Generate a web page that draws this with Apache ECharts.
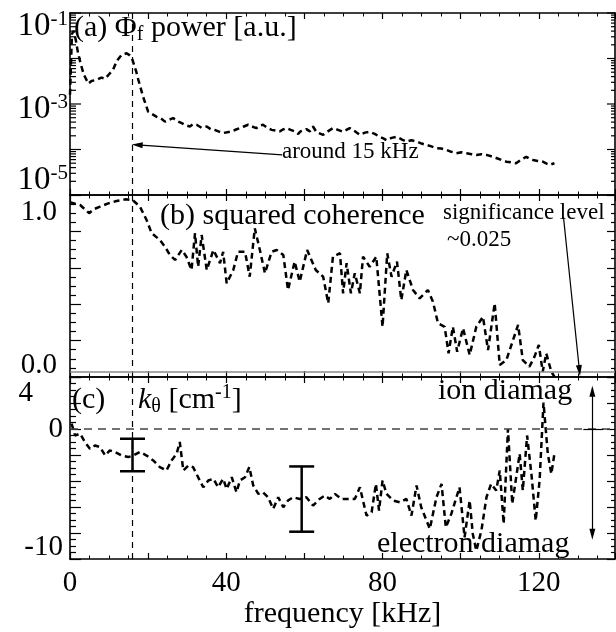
<!DOCTYPE html>
<html>
<head>
<meta charset="utf-8">
<script src="https://cdn.jsdelivr.net/npm/echarts@6/dist/echarts.min.js"></script>
<style>
  html, body { margin: 0; padding: 0; background: #fff; }
  #chart { width: 616px; height: 632px; }
</style>
</head>
<body>
<div id="chart"></div>
<script>
// ---- data ----------------------------------------------------------------
const FREQ_MAX = 139.5;          // kHz, right edge of the frequency axis
const FREQ_MARK = 16;            // dominant mode frequency, marked in all panels
const freqLabels = [0, 40, 80, 120];
const significanceLevel = 0.025;

// (a) potential fluctuation power spectrum [frequency kHz, power a.u.]
const powerSpectrum = [
  [0,1.6e-3],[0.5,3.5e-2],[1,4.0e-2],[1.5,2.5e-2],[2,1.4e-2],[2.6,8.5e-3],[3.5,4.5e-3],[4.7,2.8e-3],
  [5.5,3.2e-3],[6.8,3.4e-3],[8,3.8e-3],[9,3.6e-3],[10,4.5e-3],[11,5.6e-3],[12,8.9e-3],[13.2,1.2e-2],
  [14.5,1.3e-2],[15.3,1.17e-2],[16,9.3e-3],[17,5.0e-3],[17.5,3.4e-3],[18.7,1.45e-3],[20,6.8e-4],
  [21,6.0e-4],[22.2,5.2e-4],[23.3,4.8e-4],[24.3,4.1e-4],[25.3,4.5e-4],[26.4,4.9e-4],[27.5,4.2e-4],
  [28.6,3.8e-4],[29.6,3.4e-4],[30.7,3.2e-4],[31.5,3.6e-4],[32.4,3.5e-4],[33.7,3.0e-4],[35,3.2e-4],
  [36,2.8e-4],[37,2.7e-4],[38,2.5e-4],[39.2,2.3e-4],[40.3,2.4e-4],[41.4,2.5e-4],[42.5,2.75e-4],
  [43.5,2.95e-4],[44.5,3.2e-4],[45.6,3.5e-4],[46.6,3.2e-4],[47.7,2.95e-4],[48.5,3.3e-4],[49.4,3.5e-4],
  [50.5,3.0e-4],[51.6,2.7e-4],[52.7,2.6e-4],[53.7,2.5e-4],[54.5,2.75e-4],[55.4,2.95e-4],[56.5,2.7e-4],
  [57.5,2.5e-4],[58.4,2.2e-4],[59,2.5e-4],[60.5,2.8e-4],[61.4,2.5e-4],[62.2,3.2e-4],[63.1,2.4e-4],
  [64.8,2.1e-4],[66,2.5e-4],[67.3,2.95e-4],[68.6,2.7e-4],[69.9,2.45e-4],[71.6,2.95e-4],[73,2.5e-4],
  [74.2,2.1e-4],[75.5,2.35e-4],[76.7,2.45e-4],[78,2.2e-4],[79.3,1.9e-4],[80.2,1.75e-4],[81,1.6e-4],
  [82.3,1.8e-4],[83.6,1.9e-4],[85,1.65e-4],[86.1,1.5e-4],[87.4,1.6e-4],[88.7,1.5e-4],[90,1.35e-4],
  [91.2,1.26e-4],[92.5,1.17e-4],[93.8,1.07e-4],[95,1.05e-4],[96.3,9.8e-5],[97.6,8.9e-5],[98.9,8.3e-5],
  [100.2,8.7e-5],[101.5,8.3e-5],[102.8,7.9e-5],[104,7.6e-5],[105.3,7.9e-5],[106.6,7.6e-5],[107.8,7.1e-5],
  [109.1,6.5e-5],[110.4,5.9e-5],[111.7,5.4e-5],[113,5.2e-5],[114.2,5.0e-5],[115.5,6.0e-5],[116.8,6.9e-5],
  [117.6,6.3e-5],[118.5,5.9e-5],[119.7,5.6e-5],[121,5.4e-5],[122,4.9e-5],[122.8,4.6e-5],[124,5.0e-5]
];

// (b) squared coherence between the two probes [frequency kHz, coherence]
const coherence = [
  [0,0.96],[0.4,0.963],[2.6,0.945],[4.9,0.90],[6,0.921],[7.7,0.936],[9.8,0.954],[11.9,0.967],[14.1,0.976],
  [16,0.973],[17.9,0.936],[19.6,0.863],[20.9,0.79],[23,0.753],[24.3,0.716],[25.6,0.67],[26.9,0.643],
  [28.6,0.698],[29.8,0.661],[31.1,0.588],[32,0.79],[32.8,0.606],[33.7,0.78],[35,0.588],[36.7,0.698],
  [38.4,0.625],[39.2,0.688],[40.1,0.515],[41.8,0.588],[43,0.688],[44.8,0.688],[46,0.551],[47.3,0.817],
  [48.6,0.698],[49.9,0.57],[51.6,0.688],[52.9,0.698],[54.6,0.67],[55.8,0.478],[57.5,0.634],[58.8,0.524],
  [60.7,0.698],[62.9,0.588],[64.8,0.551],[66.1,0.405],[67.3,0.661],[69.1,0.68],[69.9,0.46],[70.8,0.625],
  [71.9,0.46],[72.9,0.57],[74.2,0.46],[75,0.661],[76.7,0.606],[78.4,0.661],[80,0.276],[81.2,0.68],
  [82.3,0.551],[83.7,0.634],[84.8,0.423],[86.1,0.588],[87.8,0.478],[89.5,0.432],[91.6,0.478],[92.9,0.414],
  [94.2,0.295],[95.9,0.276],[96.9,0.13],[98,0.276],[99.1,0.139],[100.6,0.268],[102.3,0.121],[104,0.276],
  [105.7,0.331],[107,0.148],[108.7,0.405],[110,0.066],[111.7,0.093],[113.4,0.203],[114.7,0.286],
  [115.9,0.093],[117.6,0.057],[118.9,0.112],[120,0.176],[121,0.029],[121.9,0.13],[123.2,0.029],[124,0.002]
];

// (c) poloidal wavenumber [frequency kHz, k_theta cm^-1]
const kTheta = [
  [0.4,0.41],[1.3,-0.50],[2.6,-0.36],[3.8,-1.00],[5.1,-1.52],[6.4,-1.27],[7.7,-1.39],[9,-2.04],
  [10.2,-1.65],[11.5,-1.77],[13.2,-2.04],[14.9,-2.16],[16.2,-2.04],[17.9,-1.77],[19.6,-2.04],[21.3,-2.42],
  [23,-2.93],[24.7,-3.19],[26,-2.42],[27.3,-1.90],[28.1,-1.00],[29,-3.19],[30.3,-2.81],[31.5,-2.93],
  [32.8,-3.71],[34.1,-4.48],[35.4,-3.96],[36.7,-3.83],[37.9,-4.48],[39.2,-3.83],[40.1,-4.61],[41.4,-3.71],
  [42.6,-4.87],[43.5,-3.96],[44.8,-3.71],[45.9,-2.93],[46.9,-4.34],[48.2,-4.99],[49.4,-4.87],[50.7,-5.25],
  [52,-6.14],[53.3,-5.25],[54.6,-6.02],[55.8,-5.50],[57.1,-5.25],[58.8,-5.38],[60.5,-5.25],[62.2,-5.89],
  [63.9,-5.38],[65.2,-5.12],[66.5,-5.38],[67.8,-4.99],[69.5,-5.38],[71.6,-5.38],[72.9,-5.38],[74.2,-4.48],
  [75.9,-6.66],[77.2,-6.41],[78.3,-4.22],[79.1,-6.27],[80,-3.96],[81,-4.99],[82.7,-5.50],[84.4,-5.64],
  [86.1,-5.38],[87.4,-6.66],[88.7,-4.34],[89.9,-6.02],[92.1,-7.68],[93.8,-5.25],[95.1,-4.22],[96.2,-7.57],
  [97.6,-6.53],[99.7,-4.48],[101,-8.33],[102.3,-5.50],[103.1,-8.07],[104,-9.36],[105.3,-7.82],[106.6,-5.25],
  [107.8,-4.22],[109.1,-4.73],[110,-3.19],[111,-7.29],[112.1,0.0],[113.2,-5.76],[115.1,-1.90],[115.9,-4.73],
  [117,-0.50],[118.1,-3.45],[119.2,-7.05],[120.2,-3.96],[121.2,2.03],[122.3,-1.90],[123.2,-3.45],[124,-1.90]
];

// representative uncertainty of k_theta [frequency kHz, low, high]
const kThetaErrors = [[16, -3.25, -0.75], [59.3, -7.9, -2.88]];

// ---- styling helpers ---------------------------------------------------------
const SERIF = '"Liberation Serif", "DejaVu Serif", "Times New Roman", serif';
const BLACK = '#000';
const curveStyle = { color: BLACK, width: 2.5, type: [6, 4] };
const markDash = { color: BLACK, width: 1.2, type: [6, 5] };

const PANEL_H = 182;
const grids = [
  { left: 70, top: 13, width: 545, height: PANEL_H },
  { left: 70, top: 13 + PANEL_H, width: 545, height: PANEL_H },
  { left: 70, top: 13 + 2 * PANEL_H, width: 545, height: PANEL_H }
].map(g => Object.assign({ outerBoundsMode: 'none', containLabel: false }, g));

function freqAxis(gridIndex, position, labelled) {
  return {
    type: 'value', gridIndex, position, min: 0, max: FREQ_MAX, interval: 20,
    axisLine: { show: true, onZero: false, lineStyle: { color: BLACK, width: 1.6 } },
    axisTick: { show: true, inside: true, length: 6, lineStyle: { color: BLACK, width: 1.2 } },
    minorTick: { show: true, splitNumber: 4, length: 3.5, lineStyle: { color: BLACK, width: 1 } },
    splitLine: { show: false },
    axisLabel: {
      show: labelled, margin: 10, fontFamily: SERIF, fontSize: 29, lineHeight: 29, color: BLACK,
      formatter: v => (freqLabels.indexOf(v) >= 0 ? String(v) : '')
    },
    name: labelled ? 'frequency [kHz]' : '',
    nameLocation: 'middle', nameGap: 33,
    nameTextStyle: { fontFamily: SERIF, fontSize: 30, lineHeight: 30, color: BLACK }
  };
}

const labelRich = {
  b: { fontFamily: SERIF, fontSize: 29, lineHeight: 30, color: BLACK },
  p: { fontFamily: SERIF, fontSize: 33, lineHeight: 34, color: BLACK },
  s: { fontFamily: SERIF, fontSize: 21, lineHeight: 21, color: BLACK, verticalAlign: 'top' },
  four: { fontFamily: SERIF, fontSize: 29, lineHeight: 30, color: BLACK, padding: [0, 30, 0, 0] },
  g10: { fontSize: 8, lineHeight: 10 },
  g24: { fontSize: 8, lineHeight: 24 },
  g26: { fontSize: 8, lineHeight: 26 },
  g30: { fontSize: 8, lineHeight: 30 },
  g33: { fontSize: 8, lineHeight: 33 },
  g35: { fontSize: 8, lineHeight: 35 }
};

function valueAxis(gridIndex, position, min, max, interval, labelled, formatter, margin) {
  const left = position === 'left';
  return {
    type: 'value', gridIndex, position, min, max, interval,
    axisLine: { show: true, onZero: false, lineStyle: { color: BLACK, width: 1.6 } },
    axisTick: { show: true, inside: true, length: left ? 11 : 8, lineStyle: { color: BLACK, width: 1.2 } },
    minorTick: { show: true, splitNumber: 4, length: left ? 6 : 4, lineStyle: { color: BLACK, width: 1.2 } },
    splitLine: { show: false },
    axisLabel: { show: labelled, margin: margin || 6, formatter, rich: labelRich, color: BLACK, fontFamily: SERIF, fontSize: 29 }
  };
}

function powerAxis(position, labelled) {
  return {
    type: 'log', logBase: 10, gridIndex: 0, position, min: 1e-5, max: 1e-1,
    axisLine: { show: true, onZero: false, lineStyle: { color: BLACK, width: 1.6 } },
    axisTick: { show: false }, minorTick: { show: false }, splitLine: { show: false },
    axisLabel: {
      show: labelled, margin: 2, rich: labelRich, color: BLACK, fontFamily: SERIF, fontSize: 33,
      formatter: v => {
        const e = Math.round(Math.log10(v));
        if (e === -1) return '{g26| }\n{p|10}{s|-1}';
        if (e === -3) return '{g10| }\n{p|10}{s|-3}';
        if (e === -5) return '{p|10}{s|-5}\n{g30| }';
        return '';
      }
    }
  };
}

// decade + 2..9 tick values for the logarithmic power axis
const logTicks = [];
for (let e = -5; e <= -2; e++) {
  for (let k = 1; k <= 9; k++) logTicks.push([0, k * Math.pow(10, e), k === 1 ? 1 : 0]);
}
logTicks.push([0, 1e-1, 1]);

const option = {
  animation: false,
  backgroundColor: '#fff',
  grid: grids,
  xAxis: [
    freqAxis(0, 'bottom', false), freqAxis(0, 'top', false),
    freqAxis(1, 'bottom', false), freqAxis(1, 'top', false),
    freqAxis(2, 'bottom', true),  freqAxis(2, 'top', false)
  ],
  yAxis: [
    powerAxis('left', true),
    powerAxis('right', false),
    valueAxis(1, 'left', 0, 1, 0.2, true, v => {
      if (v === 0) return '{b|0.0}\n{g24| }';
      if (Math.abs(v - 1) < 1e-9) return '{g35| }\n{b|1.0}';
      return '';
    }, 13),
    valueAxis(1, 'right', 0, 1, 0.2, false),
    valueAxis(2, 'left', -10, 4, 2, true, v => {
      if (v === 4) return '{g33| }\n{four|4}';
      if (v === 0) return '{b|0}';
      if (v === -10) return '{b|-10}\n{g24| }';
      return '';
    }, 7),
    valueAxis(2, 'right', -10, 4, 2, false)
  ],
  series: [
    // (a) power spectrum
    {
      type: 'line', xAxisIndex: 0, yAxisIndex: 0, data: powerSpectrum,
      showSymbol: false, symbol: 'none', lineStyle: curveStyle, z: 3,
      markLine: {
        silent: true, symbol: 'none', label: { show: false },
        data: [
          { xAxis: FREQ_MARK, lineStyle: markDash },
          [
            { coord: [54.3, 7.6e-5], symbol: 'none', lineStyle: { color: BLACK, width: 1.2, type: 'solid' } },
            { coord: [17.2, 1.26e-4], symbol: 'triangle', symbolSize: [6, 11] }
          ]
        ]
      }
    },
    {
      // log-axis tick marks (decades and 2..9 subdivisions) on both sides
      type: 'custom', xAxisIndex: 0, yAxisIndex: 0, data: logTicks, silent: true, clip: false, z: 4,
      encode: { x: 0, y: 1 },
      renderItem(params, api) {
        const v = api.value(1);
        const major = api.value(2) === 1;
        const pl = api.coord([0, v]);
        const pr = api.coord([FREQ_MAX, v]);
        const ll = major ? 11 : 6, lr = major ? 8 : 4;
        return {
          type: 'group',
          children: [
            { type: 'line', shape: { x1: pl[0], y1: pl[1], x2: pl[0] + ll, y2: pl[1] }, style: { stroke: BLACK, lineWidth: 1.2 } },
            { type: 'line', shape: { x1: pr[0], y1: pr[1], x2: pr[0] - lr, y2: pr[1] }, style: { stroke: BLACK, lineWidth: 1.2 } }
          ]
        };
      }
    },
    // (b) squared coherence
    {
      type: 'line', xAxisIndex: 2, yAxisIndex: 2, data: coherence,
      showSymbol: false, symbol: 'none', lineStyle: curveStyle, z: 3,
      markLine: {
        silent: true, symbol: 'none', label: { show: false },
        data: [
          { xAxis: FREQ_MARK, lineStyle: markDash },
          { yAxis: significanceLevel, lineStyle: { color: '#8a8a8a', width: 1.6, type: 'solid' } },
          [
            { coord: [126.3, 0.881], symbol: 'none', lineStyle: { color: BLACK, width: 1.2, type: 'solid' } },
            { coord: [130.4, 0.035], symbol: 'triangle', symbolSize: [6, 11] }
          ]
        ]
      }
    },
    // (c) poloidal wavenumber
    {
      type: 'line', xAxisIndex: 4, yAxisIndex: 4, data: kTheta,
      showSymbol: false, symbol: 'none', lineStyle: curveStyle, z: 3,
      markLine: {
        silent: true, symbol: 'none', label: { show: false },
        data: [
          { xAxis: FREQ_MARK, lineStyle: markDash },
          { yAxis: 0, lineStyle: { color: '#444', width: 1.5, type: [8, 6] } },
          [
            { coord: [131.4, 0], symbol: 'none', lineStyle: { color: BLACK, width: 1.2, type: 'solid' } },
            { coord: [136.5, 0], symbol: 'none' }
          ],
          [
            { coord: [133.7, 2.9], symbol: 'triangle', symbolSize: [6, 11], lineStyle: { color: BLACK, width: 1.2, type: 'solid' } },
            { coord: [133.7, -8.1], symbol: 'triangle', symbolSize: [6, 11] }
          ]
        ]
      }
    },
    {
      // error bars on k_theta
      type: 'custom', xAxisIndex: 4, yAxisIndex: 4, data: kThetaErrors, silent: true, z: 4,
      encode: { x: 0, y: [1, 2] },
      renderItem(params, api) {
        const lo = api.coord([api.value(0), api.value(1)]);
        const hi = api.coord([api.value(0), api.value(2)]);
        const w = 12.5;
        const st = { stroke: BLACK, lineWidth: 2.5 };
        return {
          type: 'group',
          children: [
            { type: 'line', shape: { x1: lo[0], y1: lo[1], x2: hi[0], y2: hi[1] }, style: st },
            { type: 'line', shape: { x1: lo[0] - w, y1: lo[1], x2: lo[0] + w, y2: lo[1] }, style: st },
            { type: 'line', shape: { x1: hi[0] - w, y1: hi[1], x2: hi[0] + w, y2: hi[1] }, style: st }
          ]
        };
      }
    }
  ],
  graphic: [
    {
      type: 'text', z: 10, silent: true,
      style: {
        x: 74, y: 28, align: 'left', verticalAlign: 'middle',
        text: '{t|(a) Φ}{sub|f}{t| power [a.u.]}',
        rich: {
          t: { fontFamily: SERIF, fontSize: 30, lineHeight: 34, fill: BLACK },
          sub: { fontFamily: SERIF, fontSize: 20, lineHeight: 20, fill: BLACK, verticalAlign: 'bottom' }
        }
      }
    },
    {
      type: 'text', z: 10, silent: true,
      style: { x: 282, y: 152, align: 'left', verticalAlign: 'middle', text: 'around 15 kHz', fontFamily: SERIF, fontSize: 23, fill: BLACK }
    },
    {
      type: 'text', z: 10, silent: true,
      style: { x: 160, y: 216, align: 'left', verticalAlign: 'middle', text: '(b) squared coherence', fontFamily: SERIF, fontSize: 30, fill: BLACK }
    },
    {
      type: 'text', z: 10, silent: true,
      style: { x: 443, y: 213, align: 'left', verticalAlign: 'middle', text: 'significance level', fontFamily: SERIF, fontSize: 23, fill: BLACK }
    },
    {
      type: 'text', z: 10, silent: true,
      style: { x: 447, y: 240, align: 'left', verticalAlign: 'middle', text: '~0.025', fontFamily: SERIF, fontSize: 23, fill: BLACK }
    },
    {
      type: 'text', z: 10, silent: true,
      style: { x: 72, y: 400, align: 'left', verticalAlign: 'middle', text: '(c)', fontFamily: SERIF, fontSize: 30, fill: BLACK }
    },
    {
      type: 'text', z: 10, silent: true,
      style: {
        x: 138, y: 400, align: 'left', verticalAlign: 'middle',
        text: '{k|k}{sub|θ}{t| [cm}{sup|-1}{t|]}',
        rich: {
          k: { fontFamily: SERIF, fontSize: 30, fontStyle: 'italic', lineHeight: 34, fill: BLACK },
          t: { fontFamily: SERIF, fontSize: 30, lineHeight: 34, fill: BLACK },
          sub: { fontFamily: SERIF, fontSize: 20, lineHeight: 20, fill: BLACK, verticalAlign: 'bottom' },
          sup: { fontFamily: SERIF, fontSize: 20, lineHeight: 20, fill: BLACK, verticalAlign: 'top' }
        }
      }
    },
    {
      type: 'text', z: 10, silent: true,
      style: { x: 438, y: 391, align: 'left', verticalAlign: 'middle', text: 'ion diamag', fontFamily: SERIF, fontSize: 30, fill: BLACK }
    },
    {
      type: 'text', z: 10, silent: true,
      style: { x: 377, y: 544, align: 'left', verticalAlign: 'middle', text: 'electron diamag', fontFamily: SERIF, fontSize: 30, fill: BLACK }
    }
  ]
};

const chart = echarts.init(document.getElementById('chart'), null, { renderer: 'canvas' });
chart.setOption(option);
</script>
</body>
</html>
